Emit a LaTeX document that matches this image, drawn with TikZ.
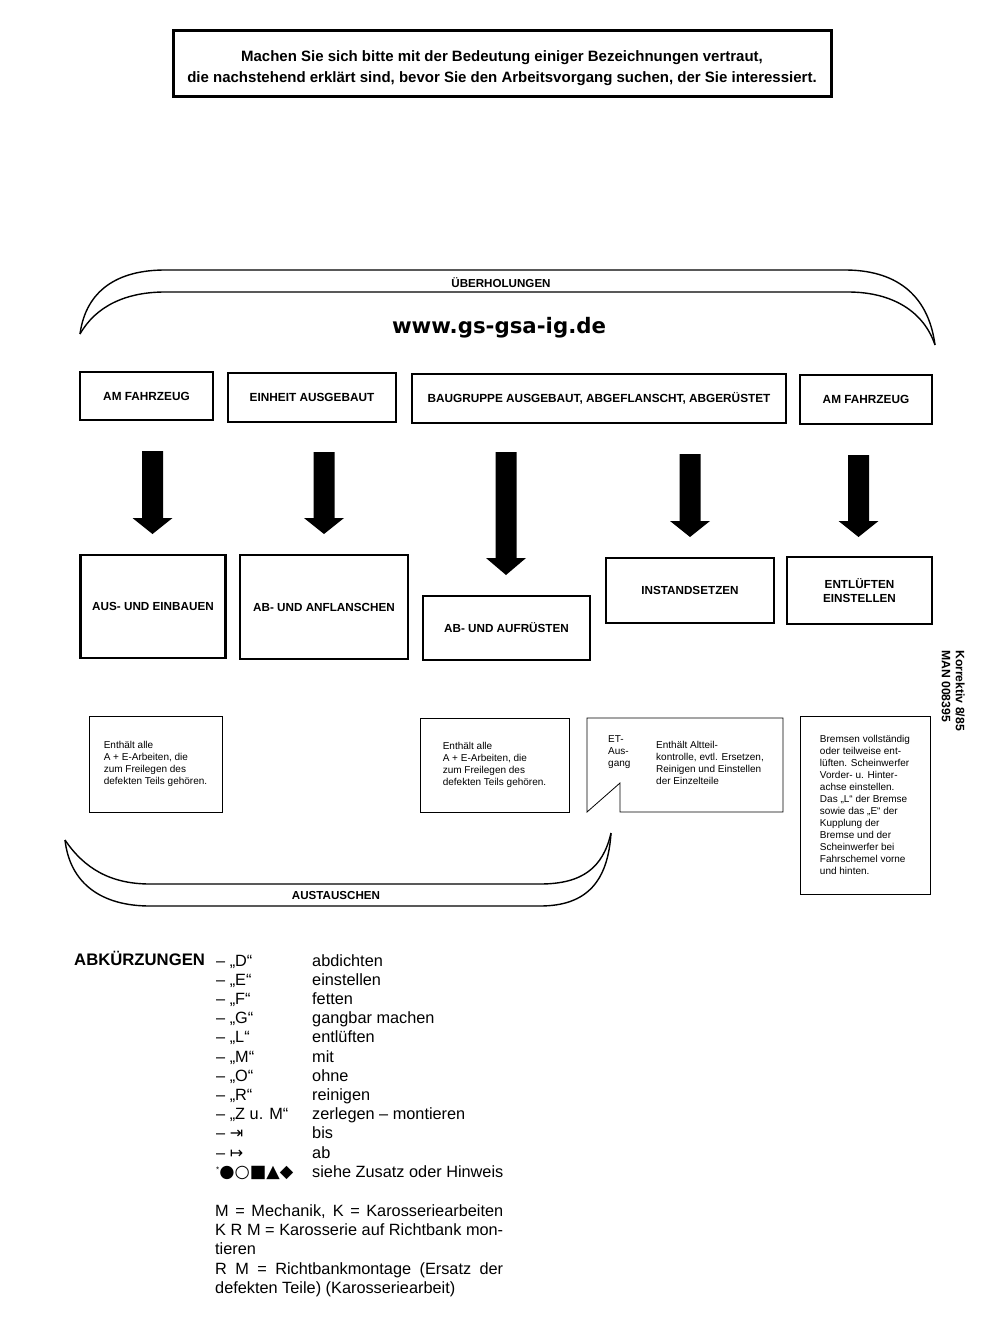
\documentclass[tikz,border=0pt]{standalone}
\usepackage{fontspec}
\setmainfont{Liberation Sans}
\newfontfamily\dvs{DejaVu Sans}
\newcommand\blockarrow[4]{%
  \fill (#1-10.5,#2) -- (#1+10.5,#2) -- (#1+10.5,#3) -- (#1+20,#3) -- (#1,#4) -- (#1-20,#3) -- (#1-10.5,#3) -- cycle;}
\begin{document}
\begin{tikzpicture}[x=1pt,y=-1pt,
  hbox/.style={draw, line width=2pt, inner sep=0pt, align=center,
    font=\bfseries\fontsize{11.8}{14}\selectfont},
  mbox/.style={draw, line width=2.8pt, inner sep=0pt, align=center,
    font=\bfseries\fontsize{11.7}{14.5}\selectfont},
  note/.style={draw, line width=0.8pt, inner sep=0pt, align=left,
    font=\fontsize{10}{12}\selectfont},
  notetxt/.style={inner sep=0pt, align=left, font=\fontsize{10}{12}\selectfont},
  bandline/.style={line width=1.4pt},
  bandlabel/.style={inner sep=0pt, font=\bfseries\fontsize{11.6}{13}\selectfont},
  abk/.style={anchor=base west, inner sep=0pt, font=\fontsize{16.3}{19}\selectfont},
]
\useasboundingbox (0,0) rectangle (1000,1319);
\fill[white] (0,0) rectangle (1000,1319);

% header box
\node[draw, line width=3pt, minimum width=658pt, minimum height=66pt, inner sep=0pt] (head) at (502,64) {};
\node[inner sep=0pt, align=center, font=\bfseries\fontsize{15}{21}\selectfont] (headtxt) at (502,68.5)
  {Machen Sie sich bitte mit der Bedeutung einiger Bezeichnungen vertraut,\\
   die nachstehend erklärt sind, bevor Sie den Arbeitsvorgang suchen, der Sie interessiert.};

% Ueberholungen band
\draw[bandline] (80,334) .. controls (86,290) and (118,270) .. (165,270) -- (845,270)
  .. controls (893,270) and (928,292) .. (935,345);
\draw[bandline] (80,334) .. controls (96,306) and (126,292) .. (165,292) -- (848,292)
  .. controls (893,292) and (924,312) .. (935,345);
\node[bandlabel] (ueb) at (501,283) {ÜBERHOLUNGEN};

\node[inner sep=0pt, font=\dvs\bfseries\fontsize{21.3}{25}\selectfont] (url) at (499,328) {www.gs-gsa-ig.de};

% top row
\node[hbox, minimum width=133pt, minimum height=48pt] (t1) at (146.5,396) {AM FAHRZEUG};
\node[hbox, minimum width=168pt, minimum height=49pt] (t2) at (312,397.5) {EINHEIT AUSGEBAUT};
\node[hbox, minimum width=374pt, minimum height=49pt] (t3) at (599,398.5) {BAUGRUPPE AUSGEBAUT, ABGEFLANSCHT, ABGERÜSTET};
\node[hbox, minimum width=132pt, minimum height=49pt] (t4) at (866,399.5) {AM FAHRZEUG};

% arrows
\blockarrow{152.5}{451}{518}{534}
\blockarrow{324}{452}{518}{534}
\blockarrow{506}{452}{558}{575}
\blockarrow{690}{454}{521}{537}
\blockarrow{858.5}{455}{521}{537}

% middle row
\node[mbox, minimum width=145pt, minimum height=103pt] (m1) at (153,606.5) {AUS- UND EINBAUEN};
\node[mbox, minimum width=168pt, minimum height=104pt] (m2) at (324,607) {AB- UND ANFLANSCHEN};
\node[mbox, minimum width=167pt, minimum height=64pt] (m3) at (506.5,628) {AB- UND AUFRÜSTEN};
\node[mbox, minimum width=168pt, minimum height=65pt] (m4) at (690,590.5) {INSTANDSETZEN};
\node[mbox, minimum width=145pt, minimum height=67pt] (m5) at (859.5,590.5) {ENTLÜFTEN\\EINSTELLEN};

% notes
\node[note, minimum width=133pt, minimum height=96pt] (n1) at (155.5,764)
  {Enthält alle\\A + E-Arbeiten, die\\zum Freilegen des\\defekten Teils gehören.};
\node[note, minimum width=149pt, minimum height=94pt] (n2) at (494.5,765)
  {Enthält alle\\A + E-Arbeiten, die\\zum Freilegen des\\defekten Teils gehören.};
\draw[line width=0.8pt] (587,718) -- (587,812) -- (620,783) -- (620,812) -- (783,812)
  -- (783,718) -- cycle;
\node[notetxt, anchor=north west] (et) at (608,735) {ET-\\Aus-\\gang};
\node[notetxt, anchor=north west] (n3) at (656,741)
  {Enthält Altteil-\\kontrolle, evtl. Ersetzen,\\Reinigen und Einstellen\\der Einzelteile};
\node[note, minimum width=130pt, minimum height=178pt] (n4) at (865,805)
  {Bremsen vollständig\\oder teilweise ent-\\lüften. Scheinwerfer\\Vorder- u. Hinter-\\achse einstellen.\\Das ,,L`` der Bremse\\sowie das ,,E`` der\\Kupplung der\\Bremse und der\\Scheinwerfer bei\\Fahrschemel vorne\\und hinten.};

% Austauschen band
\draw[bandline] (65,840) .. controls (84,868) and (110,884) .. (150,884) -- (540,884)
  .. controls (582,884) and (603,868) .. (611,833);
\draw[bandline] (65,840) .. controls (70,884) and (102,906) .. (150,906) -- (540,906)
  .. controls (588,906) and (608,880) .. (611,833);
\node[bandlabel] (aus) at (336,895) {AUSTAUSCHEN};

% side label
\node[rotate=-90, anchor=north west, inner sep=0pt, align=left,
  font=\bfseries\fontsize{12.2}{14}\selectfont] (kor) at (965,650)
  {Korrektiv 8/85\\MAN 008395};

% abbreviations
\node[abk, font=\bfseries\fontsize{16.7}{19}\selectfont] (abkh) at (74,965) {ABKÜRZUNGEN};
\foreach \k/\v [count=\i from 0] in {D/abdichten, E/einstellen, F/fetten, G/gangbar machen,
   L/entlüften, M/mit, O/ohne, R/reinigen, Z u. M/zerlegen – montieren} {
  \node[abk] (k\i) at (216,966+19.2*\i) {– „\k“};
  \node[abk] (v\i) at (312,966+19.2*\i) {\v};
}
\node[abk] (k9) at (216,966+19.2*9) {– {\dvs\fontsize{16}{16}\selectfont ⇥}};
\node[abk] (v9) at (312,966+19.2*9) {bis};
\node[abk] (k10) at (216,966+19.2*10) {– {\dvs\fontsize{16}{16}\selectfont ↦}};
\node[abk] (v10) at (312,966+19.2*10) {ab};
\node[abk] (k11) at (216,966+19.2*11) {\raisebox{5pt}{\fontsize{8}{8}\selectfont *}{\dvs\fontsize{17.5}{18}\selectfont ●○■▲◆}};
\node[abk] (v11) at (312,966+19.2*11) {siehe Zusatz oder Hinweis};

\node[abk] (b1) at (215,1216) {\makebox[288pt][s]{M = Mechanik, K = Karosseriearbeiten}};
\node[abk] (b2) at (215,1235) {\makebox[288pt][s]{K R M = Karosserie auf Richtbank mon-}};
\node[abk] (b3) at (215,1254) {tieren};
\node[abk] (b4) at (215,1274) {\makebox[288pt][s]{R M = Richtbankmontage (Ersatz der}};
\node[abk] (b5) at (215,1293) {defekten Teile) (Karosseriearbeit)};
\end{tikzpicture}
\end{document}
